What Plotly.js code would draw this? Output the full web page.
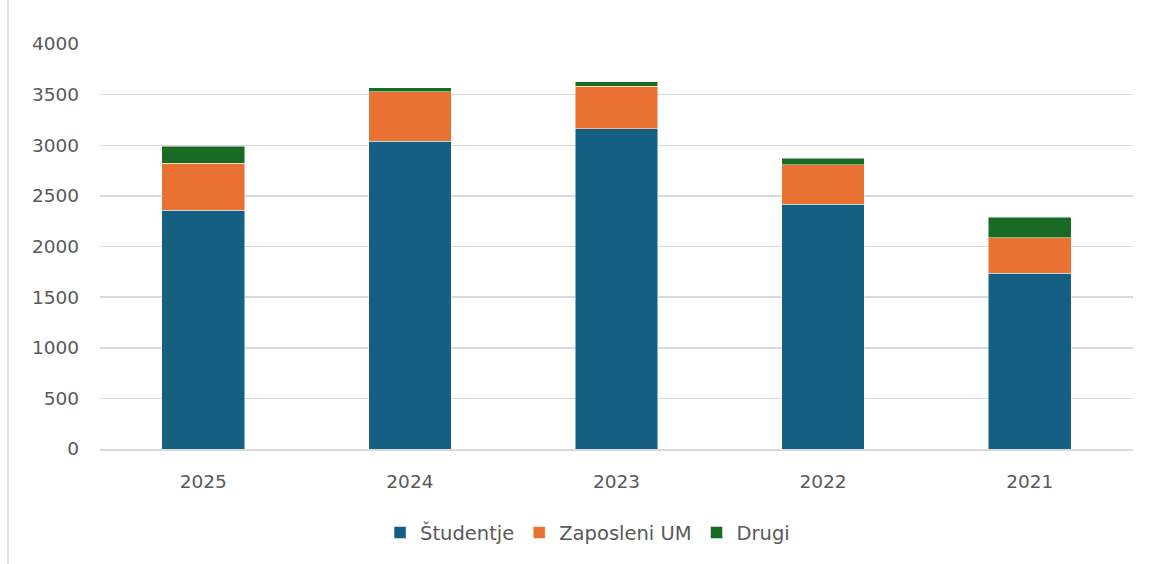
<!DOCTYPE html>
<html>
<head>
<meta charset="utf-8">
<script src="https://cdn.plot.ly/plotly-3.0.1.min.js"></script>
<style>html,body{margin:0;padding:0;background:#fff;}#chart{width:1151px;height:564px;}</style>
</head>
<body>
<div id="chart"></div>
<script>
const years = ["2025", "2024", "2023", "2022", "2021"];
const studentje = [2357, 3040, 3164, 2417, 1735];
const zaposleniUM = [465, 486, 418, 391, 352];
const drugi = [168, 40, 46, 63, 204];
const yTicks = [0, 500, 1000, 1500, 2000, 2500, 3000, 3500, 4000];

const font = {family: "'DejaVu Sans', 'Noto Sans', sans-serif", size: 18.5, color: "#595959"};
const legendFont = {family: "'DejaVu Sans', 'Noto Sans', sans-serif", size: 19.5, color: "#595959"};
const mk = (name, y, color) => ({
  type: "bar", name: name, x: years, y: y,
  marker: {color: color, line: {color: "rgba(255,255,255,0.6)", width: 0.8}},
  hoverinfo: "x+y+name"
});
const data = [
  mk("Študentje", studentje, "#156082"),
  mk("Zaposleni UM", zaposleniUM, "#E97132"),
  mk("Drugi", drugi, "#196B24")
];
const layout = {
  width: 1151, height: 564,
  margin: {l: 100, r: 18, t: 44, b: 115},
  paper_bgcolor: "#fff", plot_bgcolor: "#fff",
  barmode: "stack", bargap: 0.6,
  font: font,
  showlegend: true,
  legend: {orientation: "h", x: 0.472, xanchor: "center", y: -0.207, yanchor: "middle",
           font: legendFont, traceorder: "normal", itemwidth: 30},
  xaxis: {type: "category", showgrid: false, showline: true, linecolor: "#d9d9d9", linewidth: 1.5,
          ticks: "", ticklabelstandoff: 15, tickfont: font, fixedrange: true},
  yaxis: {range: [0, 4000], tickvals: yTicks, ticktext: yTicks.map(String), showgrid: true,
          gridcolor: "#d9d9d9", gridwidth: 1.5, zeroline: false, showline: false,
          ticks: "", ticklabelstandoff: 20, tickfont: font, fixedrange: true},
  shapes: [{type: "line", xref: "paper", yref: "paper", x0: -0.0891, x1: -0.0891, y0: -0.3, y1: 1.11,
            line: {color: "#d9d9d9", width: 1.5}}]
};
Plotly.newPlot("chart", data, layout, {displayModeBar: false, staticPlot: true});
</script>
</body>
</html>
